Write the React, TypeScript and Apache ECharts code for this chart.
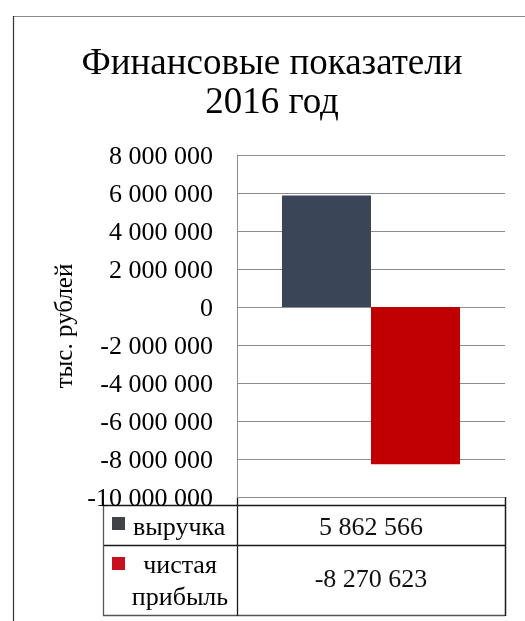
import React, { useEffect, useRef } from "react";
import * as echarts from "echarts";

const titleLines = ["Финансовые показатели", "2016 год"];
const yAxisTitle = "тыс. рублей";
const categories = [""];
const seriesNames = ["выручка", "чистая прибыль"];
const tableLabels = [["выручка"], ["чистая", "прибыль"]];
const revenue = [5862566];
const netProfit = [-8270623];
const seriesColors = ["#3a4558", "#c00000"];
const legendColors = ["#404347", "#c8101e"];
const yMin = -10000000;
const yMax = 8000000;
const yStep = 2000000;

const fmt = (v: number) => {
  const s = Math.abs(Math.round(v)).toString().replace(/\B(?=(\d{3})+(?!\d))/g, " ");
  return (v < 0 ? "-" : "") + s;
};

const FONT = "Liberation Serif";

export default function App() {
  const ref = useRef<HTMLDivElement>(null);
  useEffect(() => {
    if (!ref.current) return;
    const chart = echarts.init(ref.current, null, { renderer: "svg" });
    const allValues = [revenue[0], netProfit[0]];
    const tableColor = "#1a1a1a";
    const graphics: any[] = [
      { type: "line", shape: { x1: 13.5, y1: 16.5, x2: 525, y2: 16.5 }, style: { stroke: "#8a8a8a", lineWidth: 1.2 } },
      { type: "line", shape: { x1: 13.5, y1: 16, x2: 13.5, y2: 621 }, style: { stroke: "#333", lineWidth: 1.2 } },
    ];
    titleLines.forEach((t, i) => {
      graphics.push({
        type: "text",
        x: 272,
        y: 61 + i * 39,
        style: {
          text: t,
          fontFamily: FONT,
          fontSize: 37,
          fill: "#000",
          align: "center",
          verticalAlign: "middle",
        },
      });
    });
    graphics.push(
      { type: "line", shape: { x1: 103, y1: 505.5, x2: 505, y2: 505.5 }, style: { stroke: tableColor, lineWidth: 1.3 } },
      { type: "line", shape: { x1: 103, y1: 545.5, x2: 505, y2: 545.5 }, style: { stroke: tableColor, lineWidth: 1.3 } },
      { type: "line", shape: { x1: 103, y1: 615.5, x2: 505, y2: 615.5 }, style: { stroke: "#555", lineWidth: 1.3 } },
      { type: "line", shape: { x1: 103.5, y1: 505, x2: 103.5, y2: 616 }, style: { stroke: "#555", lineWidth: 1.3 } },
      { type: "line", shape: { x1: 505.5, y1: 497, x2: 505.5, y2: 616 }, style: { stroke: tableColor, lineWidth: 1.5 } },
      { type: "line", shape: { x1: 237.5, y1: 497, x2: 237.5, y2: 616 }, style: { stroke: tableColor, lineWidth: 1.3 } }
    );
    const rowCenters = [526, 578];
    const rowTextYs = [[526], [564, 596]];
    const squareYs = [517, 557];
    seriesNames.forEach((_, i) => {
      graphics.push({
        type: "rect",
        shape: { x: 112, y: squareYs[i], width: 13, height: 13 },
        style: { fill: legendColors[i] },
      });
      tableLabels[i].forEach((t, j) => {
        graphics.push({
          type: "text",
          x: i === 0 ? 133 : 180,
          y: rowTextYs[i][j],
          style: {
            text: t,
            fontFamily: FONT,
            fontSize: 26,
            fill: "#000",
            align: i === 0 ? "left" : "center",
            verticalAlign: "middle",
          },
        });
      });
      graphics.push({
        type: "text",
        x: 371,
        y: rowCenters[i],
        style: {
          text: fmt(allValues[i]),
          fontFamily: FONT,
          fontSize: 26,
          fill: "#111",
          align: "center",
          verticalAlign: "middle",
        },
      });
    });

    chart.setOption({
      animation: false,
      grid: { left: 237, right: 20, top: 155, bottom: 124, containLabel: false },
      xAxis: {
        type: "category",
        data: categories,
        axisLine: { show: false },
        axisTick: { show: false },
        axisLabel: { show: false },
      },
      yAxis: {
        type: "value",
        min: yMin,
        max: yMax,
        interval: yStep,
        name: yAxisTitle,
        nameLocation: "middle",
        nameRotate: 90,
        nameGap: 160,
        nameTextStyle: { fontFamily: FONT, fontSize: 25, color: "#000" },
        axisLine: { show: true, lineStyle: { color: "#8c8c8c", width: 1 } },
        axisTick: { show: false },
        axisLabel: {
          fontFamily: FONT,
          fontSize: 26,
          color: "#000",
          margin: 24,
          formatter: (v: number) => fmt(v),
        },
        splitLine: { show: true, lineStyle: { color: "#8c8c8c", width: 1 } },
      },
      series: [
        {
          name: seriesNames[0],
          type: "bar",
          data: revenue,
          barWidth: 89,
          barGap: "0%",
          itemStyle: { color: seriesColors[0] },
        },
        {
          name: seriesNames[1],
          type: "bar",
          data: netProfit,
          barWidth: 89,
          barGap: "0%",
          itemStyle: { color: seriesColors[1] },
        },
      ],
      graphic: graphics,
    });
    return () => chart.dispose();
  }, []);
  return (
    <div
      ref={ref}
      style={{ position: "fixed", left: 0, top: 0, width: 525, height: 621 }}
    />
  );
}
